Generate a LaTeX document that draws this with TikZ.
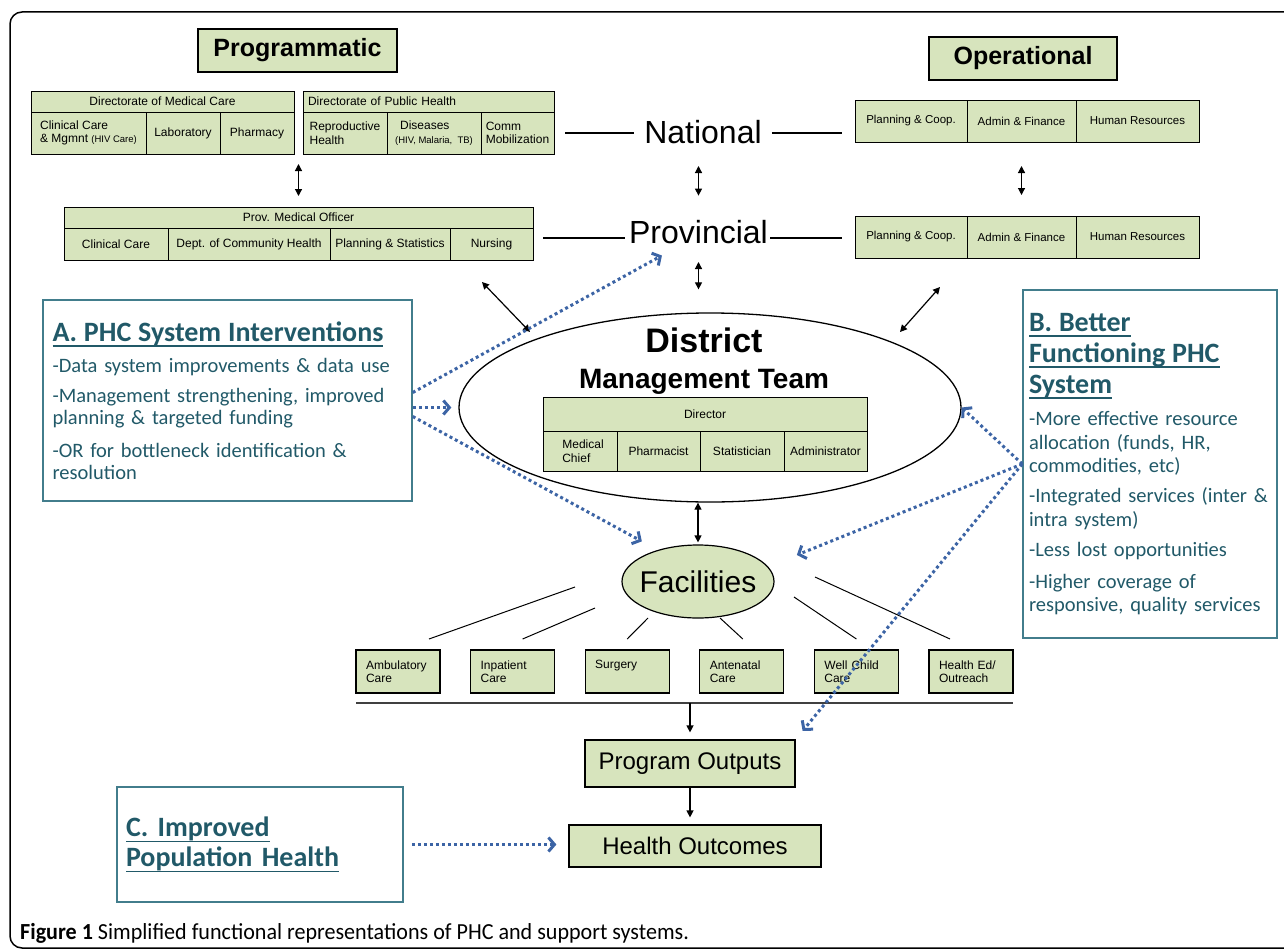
\documentclass[tikz,border=0pt]{standalone}
\usepackage{fontspec}
\setmainfont{Liberation Sans}
\newfontfamily\calibri{Carlito}
\newfontfamily\capfont[FakeStretch=0.96]{Carlito}
\newcommand{\ulined}[1]{\setbox0=\hbox{#1}\leavevmode\rlap{\copy0}\rule[-6pt]{\wd0}{1.8pt}}
\usetikzlibrary{shapes.geometric, arrows.meta, positioning, calc}
\definecolor{boxgreen}{RGB}{215,228,189}
\definecolor{tealline}{RGB}{66,125,140}
\definecolor{tealtext}{RGB}{33,89,104}
\definecolor{dotblue}{RGB}{60,100,165}
\tikzstyle{title} = [rectangle, draw=black, line width=1.2pt, fill=boxgreen, minimum height=43pt, font=\fontsize{25}{27}\selectfont\bfseries]
\tikzstyle{hdr} = [rectangle, draw=black, line width=1pt, fill=boxgreen, minimum height=21pt, inner sep=2pt, outer sep=0pt, font=\fontsize{12}{13.5}\selectfont]
\tikzstyle{cellbox} = [rectangle, draw=black, line width=1pt, fill=boxgreen, minimum height=42pt, inner sep=2pt, outer sep=0pt, align=left, font=\fontsize{12}{13.5}\selectfont]
\tikzstyle{tier} = [inner sep=0pt, font=\fontsize{32}{34}\selectfont]
\tikzstyle{svc} = [rectangle, draw=black, line width=1.2pt, fill=boxgreen, minimum width=84pt, minimum height=43pt, text width=64pt, outer sep=0pt, align=left, font=\fontsize{12}{13.5}\selectfont]
\tikzstyle{outbox} = [rectangle, draw=black, line width=1.2pt, fill=boxgreen, font=\fontsize{24}{26}\selectfont]
\tikzstyle{note} = [rectangle, draw=tealline, line width=1.5pt, text=tealtext, align=left, font=\calibri\fontsize{20.5}{22}\selectfont]
\tikzstyle{levelline} = [line width=1.2pt]
\tikzstyle{spoke} = [line width=1pt]
\tikzstyle{arrow} = [line width=1.2pt, -{Triangle[length=7pt,width=7pt]}]
\tikzstyle{dblarrow} = [line width=1.2pt, {Triangle[length=7pt,width=7pt]}-{Triangle[length=7pt,width=7pt]}]
\tikzstyle{dotarrow} = [dotblue, line width=3pt, dash pattern=on 3pt off 3pt, -{Straight Barb[length=6pt,width=14pt]}]

\begin{document}
\begin{tikzpicture}[x=1pt, y=-1pt]
    \useasboundingbox (0,0) rectangle (1284,950);
    \draw [line width=1.5pt, rounded corners=12pt] (1290,12) -- (10,12) -- (10,948) -- (1290,948);

    \node (prog) [title, minimum width=199pt] at (297.5,50.5) {Programmatic};
    \node (oper) [title, minimum width=188pt] at (1023,58.5) {Operational};

    % national, programmatic
    \node (dmc) [hdr, minimum width=263pt, anchor=north west] at (31,91) {Directorate of Medical Care};
    \node (dmc1) [cellbox, minimum width=115pt, below right=0pt of dmc.south west] {Clinical Care\\\& Mgmnt {\fontsize{9.5}{11}\selectfont(HIV Care)}};
    \node (dmc2) [cellbox, minimum width=74pt, right=0pt of dmc1] {Laboratory};
    \node (dmc3) [cellbox, minimum width=74pt, right=0pt of dmc2] {Pharmacy};
    \node (dph) [hdr, text width=241pt, inner xsep=5pt, align=left, anchor=north west] at (303,91) {Directorate of Public Health};
    \node (dph1) [cellbox, minimum width=84pt, below right=0pt of dph.south west] {Reproductive\\Health};
    \node (dph2) [cellbox, minimum width=94pt, right=0pt of dph1] {\hspace*{5pt}Diseases\\{\fontsize{9.5}{11}\selectfont(HIV, Malaria,~~TB)}};
    \node (dph3) [cellbox, minimum width=73pt, right=0pt of dph2] {Comm\\Mobilization};

    % provincial, programmatic
    \node (pmo) [hdr, minimum width=469pt, anchor=north west] at (64,207) {Prov. Medical Officer};
    \node (pmo1) [cellbox, minimum width=104pt, minimum height=32pt, below right=0pt of pmo.south west] {Clinical Care};
    \node (pmo2) [cellbox, minimum width=162pt, minimum height=32pt, right=0pt of pmo1] {Dept. of Community Health};
    \node (pmo3) [cellbox, minimum width=120pt, minimum height=32pt, right=0pt of pmo2] {Planning \& Statistics};
    \node (pmo4) [cellbox, minimum width=83pt, minimum height=32pt, right=0pt of pmo3] {Nursing};

    % operational
    \node (op1) [cellbox, minimum width=112pt, anchor=north west, font=\fontsize{11.5}{13}\selectfont] at (855,100) {Planning \& Coop.};
    \node (op2) [cellbox, minimum width=109pt, right=0pt of op1, font=\fontsize{11.5}{13}\selectfont] {Admin \& Finance};
    \node (op3) [cellbox, minimum width=123pt, right=0pt of op2, font=\fontsize{11.5}{13}\selectfont] {Human Resources};
    \node (op1p) [cellbox, minimum width=112pt, anchor=north west, font=\fontsize{11.5}{13}\selectfont] at (855,216) {Planning \& Coop.};
    \node (op2p) [cellbox, minimum width=109pt, right=0pt of op1p, font=\fontsize{11.5}{13}\selectfont] {Admin \& Finance};
    \node (op3p) [cellbox, minimum width=123pt, right=0pt of op2p, font=\fontsize{11.5}{13}\selectfont] {Human Resources};

    \node (natl) [tier, anchor=base] at (703,143) {National};
    \node (provl) [tier, anchor=base] at (698.5,243) {Provincial};

    % district
    \node (dmt) [ellipse, draw, line width=1.3pt, fill=white, minimum width=502pt, minimum height=189pt, inner sep=0pt] at (710,407.5) {};
    \node (dist) [anchor=base, font=\fontsize{34}{36}\selectfont\bfseries] at (704,352) {District};
    \node (mgmt) [anchor=base, font=\fontsize{28}{30}\selectfont\bfseries] at (704,388) {Management Team};
    \node (dir) [hdr, minimum width=324pt, minimum height=34pt, anchor=north west] at (543,397) {Director};
    \node (dir1) [cellbox, minimum width=74pt, minimum height=40pt, below right=0pt of dir.south west] {\hspace*{6pt}Medical\\\hspace*{6pt}Chief};
    \node (dir2) [cellbox, minimum width=83pt, minimum height=40pt, right=0pt of dir1] {Pharmacist};
    \node (dir3) [cellbox, minimum width=84pt, minimum height=40pt, right=0pt of dir2] {Statistician};
    \node (dir4) [cellbox, minimum width=83pt, minimum height=40pt, right=0pt of dir3] {Administrator};

    % facilities
    \node (fac) [ellipse, draw, line width=1.2pt, fill=boxgreen, minimum width=152pt, minimum height=73pt, inner sep=0pt,
        label={[font=\fontsize{30}{32}\selectfont]center:Facilities}] at (698,581.5) {};
    \node (amb) [svc] at (398,671.5) {Ambulatory\\Care};
    \node (inp) [svc, right=30.6pt of amb] {Inpatient\\Care};
    \node (sur) [svc, right=30.6pt of inp] {Surgery\\~};
    \node (ant) [svc, right=30.6pt of sur] {Antenatal\\Care};
    \node (wel) [svc, right=30.6pt of ant] {Well Child\\Care};
    \node (hed) [svc, right=30.6pt of wel] {Health Ed/\\Outreach};

    \node (po) [outbox, minimum width=210pt, minimum height=47pt] at (690,763.5) {Program Outputs};
    \node (ho) [outbox, minimum width=252pt, minimum height=42pt] at (695,846) {Health Outcomes};

    % side boxes
    \node (boxa) [note, text width=350pt, inner xsep=9.5pt, minimum height=201pt] at (227.5,400.5) {{\fontsize{28}{30}\selectfont\bfseries\ulined{A. PHC System Interventions}\par}\vspace{9pt}
        -Data system improvements \& data use\\[8pt]
        -Management strengthening, improved\\
        planning \& targeted funding\\[11pt]
        -OR for bottleneck identification \&\\
        resolution};
    \node (boxb) [note, text width=242pt, inner xsep=6pt, minimum height=348pt, font=\calibri\fontsize{20.5}{23.5}\selectfont] at (1150,464) {{\fontsize{28}{31}\selectfont\bfseries\ulined{B. Better}\\\ulined{Functioning PHC}\\\ulined{System}\par}\vspace{9pt}
        -More effective resource\\
        allocation (funds, HR,\\
        commodities, etc)\\[6.5pt]
        -Integrated services (inter \&\\
        intra system)\\[6.5pt]
        -Less lost opportunities\\[8.5pt]
        -Higher coverage of\\
        responsive, quality services};
    \node (boxc) [note, text width=268pt, inner xsep=9pt, minimum height=115pt, font=\calibri\fontsize{28}{30}\selectfont\bfseries] at (260,844.5) {\ulined{C. Improved}\\\ulined{Population Health}};

    \node (caption) [anchor=base west, inner sep=0pt, font=\capfont\fontsize{23}{25}\selectfont] at (20,939) {\textbf{Figure 1} Simplified functional representations of PHC and support systems.};

    % level lines
    \draw [levelline] ($(dph3.east |- natl.base)+(11,-10)$) -- ($(natl.base west)+(-10,-10)$);
    \draw [levelline] ($(natl.base east)+(10,-10)$) -- ($(op1.west |- natl.base)+(-13,-10)$);
    \draw [levelline] ($(pmo4.east |- provl.base)+(10,-5)$) -- ($(provl.base west)+(-4,-5)$);
    \draw [levelline] ($(provl.base east)+(2,-5)$) -- ($(op1p.west |- provl.base)+(-13,-5)$);

    % vertical links
    \coordinate (gap) at ($(dmc3.south east)!.5!(dph1.south west)$);
    \draw [dblarrow, shorten <=10pt, shorten >=11pt] (gap) -- (gap |- pmo.north);
    \draw [dblarrow, shorten <=23pt, shorten >=24pt] (provl |- natl.base) -- (provl.north);
    \draw [dblarrow, shorten <=24pt, shorten >=21pt] (op2.south) -- (op2p.north);
    \draw [dblarrow, shorten <=19pt, shorten >=23pt] (provl.base) -- (provl.base |- dmt.north);
    \draw [dblarrow] ($(pmo4.south west)+(32,22)$) -- ($(dmt.center)+(-180,-75.5)$);
    \draw [dblarrow] ($(op1p.south)+(29,29)$) -- ($(dmt.center)+(190,-75.5)$);
    \draw [dblarrow, shorten >=2pt] (fac.north |- dmt.south) -- (fac.north);

    % facilities to services
    \draw [spoke] ($(fac.center)+(-123,5.5)$) -- ($(amb.north)+(31,-11)$);
    \draw [spoke] ($(fac.center)+(-103,26.5)$) -- ($(inp.north)+(10,-11)$);
    \draw [spoke] ($(fac.center)+(-50,36.5)$) -- ($(sur.north)+(0,-11)$);
    \draw [spoke] ($(fac.center)+(22,36.5)$) -- ($(ant.north)+(1,-11)$);
    \draw [spoke] ($(fac.center)+(96,15.5)$) -- ($(wel.north)+(0,-11)$);
    \draw [spoke] ($(fac.center)+(117,-4.5)$) -- ($(hed.north)+(-21,-11)$);
    \coordinate (barl) at ($(amb.south west)+(0,10)$);
    \draw [line width=1.8pt, black!75] (barl) -- ($(hed.south east)+(0,10)$);
    \draw [arrow, shorten >=7pt] (po.north |- barl) -- (po.north);
    \draw [arrow, shorten >=7pt] (po.south) -- (po.south |- ho.north);

    % interventions
    \draw [dotarrow] ($(boxa.east)+(0,-8)$) -- ($(provl.south west)+(33,12)$);
    \draw [dotarrow, shorten >=7pt] (boxa.east |- dmt.west) -- (dmt.west);
    \draw [dotarrow, shorten >=18pt] ($(boxa.east)+(0,16)$) -- (fac.142);
    \draw [dotarrow] (boxb.west) -- (dmt.east);
    \draw [dotarrow, shorten >=31pt] (boxb.west) -- (fac.12);
    \draw [dotarrow, shorten >=11pt] (boxb.west) -- (po.north east);
    \draw [dotarrow, shorten <=8pt, shorten >=12pt] (boxc.east) -- (boxc.east -| ho.west);
\end{tikzpicture}
\end{document}
